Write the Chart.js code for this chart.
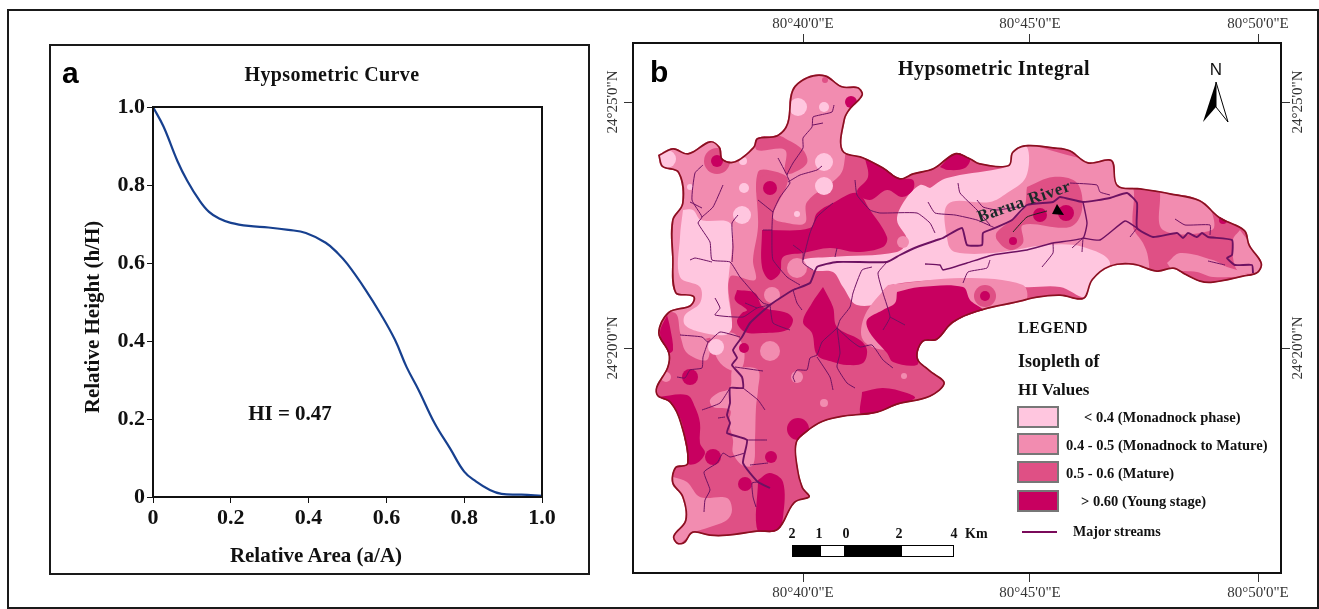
<!DOCTYPE html>
<html>
<head>
<meta charset="utf-8">
<script src="https://cdn.jsdelivr.net/npm/chart.js@4"></script>
<style>
html, body { margin: 0; padding: 0; background: #fff; }
#page { position: relative; width: 1319px; height: 609px; overflow: hidden; background: #fff; }
canvas { position: absolute; }
#mapChart { filter: blur(0.5px); }
.box { position: absolute; border: 2px solid #1a1a1a; box-sizing: border-box; }
.t { position: absolute; font-family: "Liberation Serif", serif; font-weight: bold; color: #111; white-space: nowrap; transform: translateY(-50%); line-height: 1; }
.c { transform: translate(-50%, -50%); }
.s { font-family: "Liberation Sans", sans-serif; }
.swatch { position: absolute; left: 1017px; width: 42px; height: 22px; border: 2px solid #777; box-sizing: border-box; }
.seg { position: absolute; top: 545px; height: 12px; box-sizing: border-box; border: 1px solid #000; }
</style>
</head>
<body>
<div id="page">
  <div class="box" style="left:7px;top:9px;width:1312px;height:600px"></div>
  <div class="box" style="left:49px;top:44px;width:541px;height:531px"></div>
  <canvas id="curveChart" width="538" height="528" style="left:50px;top:45px"></canvas>
  <canvas id="mapChart" width="729" height="609" style="left:590px;top:0"></canvas>

  <div class="t s" style="left:62px;top:73px;font-size:30px;color:#000">a</div>
  <div class="t c" style="left:332px;top:74px;font-size:20px;letter-spacing:.4px">Hypsometric Curve</div>
  <div class="t c" style="left:290px;top:413px;font-size:21px">HI = 0.47</div>
  <div class="t c" style="left:316px;top:555px;font-size:21px">Relative Area (a/A)</div>
  <div class="t c" style="left:92px;top:317px;font-size:21px;transform:translate(-50%,-50%) rotate(-90deg)">Relative Height (h/H)</div>

  <div class="t s" style="left:650px;top:72px;font-size:30px;color:#000">b</div>
  <div class="t c" style="left:994px;top:68px;font-size:20px;letter-spacing:.4px">Hypsometric Integral</div>
  <div class="t c s" style="left:1216px;top:69px;font-size:17px;font-weight:normal">N</div>
  <svg style="position:absolute;left:0;top:0" width="1319" height="609">
    <polygon points="1216,82 1203,122 1216,107" fill="#000"/>
    <polygon points="1216,82 1228,122 1216,107" fill="#fff" stroke="#000"/>
    <polygon points="1057,204 1064,215 1052,214" fill="#000"/>
    <line x1="1022" y1="532" x2="1057" y2="532" stroke="#7a0a5a" stroke-width="2"/>
  </svg>
  <div class="t c" style="left:1024px;top:201px;font-size:17px;letter-spacing:.7px;transform:translate(-50%,-50%) rotate(-19deg);color:#1a2a2a">Barua River</div>

  <div class="t" style="left:1018px;top:328px;font-size:16px;letter-spacing:.4px">LEGEND</div>
  <div class="t" style="left:1018px;top:361px;font-size:18px">Isopleth of</div>
  <div class="t" style="left:1018px;top:389px;font-size:17px">HI Values</div>
  <div class="swatch" style="top:406px;background:#ffc6df"></div>
  <div class="swatch" style="top:433px;background:#f28cb0"></div>
  <div class="swatch" style="top:461px;background:#df5085"></div>
  <div class="swatch" style="top:490px;background:#c80060"></div>
  <div class="t" style="left:1084px;top:417px;font-size:14.5px">&lt; 0.4 (Monadnock phase)</div>
  <div class="t" style="left:1066px;top:445px;font-size:14.5px">0.4 - 0.5 (Monadnock to Mature)</div>
  <div class="t" style="left:1066px;top:473px;font-size:14.5px">0.5 - 0.6 (Mature)</div>
  <div class="t" style="left:1081px;top:501px;font-size:14.5px">&gt; 0.60 (Young stage)</div>
  <div class="t" style="left:1073px;top:532px;font-size:14px">Major streams</div>

  <div class="seg" style="left:792px;width:28px;background:#000"></div>
  <div class="seg" style="left:820px;width:25px;background:#fff"></div>
  <div class="seg" style="left:845px;width:56px;background:#000"></div>
  <div class="seg" style="left:901px;width:53px;background:#fff"></div>
  <div class="t c" style="left:792px;top:534px;font-size:14px">2</div>
  <div class="t c" style="left:819px;top:534px;font-size:14px">1</div>
  <div class="t c" style="left:846px;top:534px;font-size:14px">0</div>
  <div class="t c" style="left:899px;top:534px;font-size:14px">2</div>
  <div class="t c" style="left:954px;top:534px;font-size:14px">4</div>
  <div class="t" style="left:965px;top:534px;font-size:14px">Km</div>
</div>

<script>
// hypsometric curve
const relArea = [0, .027, .063, .088, .119, .144, .17, .2, .246, .297, .348, .393, .444, .475, .5, .546, .586, .622, .652, .683, .724, .764, .8, .83, .866, .896, .947, 1];
const relHeight = [1, .95, .861, .811, .761, .731, .714, .703, .695, .691, .685, .677, .652, .625, .597, .532, .468, .403, .333, .274, .189, .124, .065, .04, .018, .008, .006, .003];
const curveTicks = [0, .2, .4, .6, .8, 1];

// map grid units
const lonTicks = [170, 397, 625];
const lonLabels = ['80°40\'0"E', '80°45\'0"E', '80°50\'0"E'];
const latTicks = [52, 298];
const latLabels = ['24°25\'0"N', '24°20\'0"N'];

const LIGHT = '#ffc6df', MEDIUM = '#f28cb0', MATURE = '#df5085', YOUNG = '#c80060';

const outline = [[25,105],[40,98],[55,103],[77,91],[87,97],[90,109],[102,111],[120,97],[124,88],[144,85],[154,73],[159,40],[174,27],[192,25],[209,36],[225,37],[230,45],[217,60],[212,70],[210,100],[230,107],[250,117],[267,128],[280,123],[300,118],[322,103],[337,108],[347,113],[375,115],[379,102],[392,95],[420,97],[437,100],[455,112],[479,110],[485,135],[507,138],[537,143],[567,150],[587,167],[612,180],[617,195],[629,213],[625,223],[610,227],[580,233],[567,232],[552,225],[540,219],[524,222],[500,215],[477,217],[460,230],[451,249],[427,246],[404,248],[387,252],[344,262],[320,273],[304,290],[290,292],[285,308],[297,320],[312,333],[297,347],[264,355],[244,363],[210,367],[190,372],[174,382],[164,393],[165,417],[170,437],[177,447],[162,453],[145,480],[124,482],[94,486],[77,486],[60,483],[52,493],[44,494],[40,486],[52,470],[49,447],[39,433],[42,417],[54,413],[47,373],[37,353],[24,346],[23,337],[34,317],[35,303],[25,283],[35,262],[57,255],[60,247],[42,243],[39,207],[39,170],[49,153],[45,123],[29,117]];

const mediumNorth = [[17,100],[77,83],[157,17],[237,17],[237,43],[215,67],[212,107],[207,125],[174,152],[172,173],[154,173],[140,167],[155,130],[144,122],[125,122],[125,177],[120,210],[122,230],[97,227],[97,273],[80,287],[50,287],[42,263],[10,263],[0,110]];
const mediumEast = [[392,93],[457,110],[479,108],[487,137],[500,137],[500,177],[510,193],[515,207],[514,222],[477,220],[447,197],[357,205],[314,203],[314,152],[360,150],[390,123]];
const mediumTip = [[527,143],[567,148],[579,163],[579,180],[530,180]];
const mediumCape = [[607,180],[630,213],[622,223],[604,220],[600,190]];
const mediumSouthStrip = [[534,213],[547,203],[580,210],[594,217],[604,220],[614,225],[580,227],[564,222],[540,220]];
const mediumFoot = [[40,427],[54,432],[67,447],[94,448],[99,460],[94,470],[77,477],[60,483],[40,497],[20,480],[25,430]];
const mediumSpine = [[105,317],[125,320],[125,340],[123,357],[122,390],[120,415],[109,415],[100,403],[100,390],[96,373],[97,360],[80,357],[77,350],[85,343],[97,338],[99,320]];
const mediumWest = [[47,285],[74,290],[74,310],[54,303]];
const mediumLink = [[77,287],[100,283],[111,300],[108,320],[97,320],[85,310]];
const lightWest = [[50,160],[60,160],[68,170],[97,173],[99,197],[96,223],[95,243],[99,277],[92,285],[67,282],[52,275],[52,265],[67,253],[67,237],[47,227],[47,187]];
const lightBand = [[297,138],[314,128],[365,119],[375,115],[379,102],[394,97],[393,127],[374,143],[357,152],[315,154],[315,193],[322,202],[360,203],[414,195],[450,197],[477,213],[455,247],[427,237],[390,237],[330,230],[257,235],[247,247],[264,233],[254,250],[224,255],[210,237],[200,222],[180,220],[170,210],[197,207],[264,202],[274,190],[264,170],[272,150],[287,135]];
const mediumHalo = [[255,235],[330,228],[390,235],[392,252],[344,262],[300,285],[255,300],[230,290],[232,265]];
const matureRiver = [[394,137],[420,127],[444,133],[449,160],[437,177],[390,175],[390,193],[377,200],[364,190],[364,182],[390,160]];
const matureCap = [[150,87],[170,100],[174,113],[160,123],[152,123],[152,100],[124,100],[124,88],[144,85]];
const youngNorth = [[129,180],[177,178],[184,163],[200,153],[224,143],[237,160],[254,187],[250,197],[224,202],[197,198],[170,203],[150,207],[147,223],[137,230],[129,217]];
const youngRidge = [[232,108],[254,120],[267,128],[280,130],[280,140],[269,147],[254,140],[237,150],[224,142],[235,127]];
const youngTop = [[307,117],[322,103],[337,108],[332,118],[315,120]];
const youngWest = [[25,347],[54,345],[62,357],[67,373],[67,393],[72,403],[64,413],[54,413],[49,373],[37,353]];
const youngEdge = [[34,265],[37,277],[40,300],[35,303],[27,283]];
const youngJunction = [[104,240],[122,243],[130,257],[154,263],[160,270],[154,280],[130,283],[112,282],[104,272],[109,263],[114,260],[102,250]];
const youngCentre = [[190,237],[200,257],[204,277],[227,290],[234,300],[230,313],[214,315],[200,312],[184,305],[179,283],[170,272],[179,253]];
const youngSouth = [[264,242],[287,237],[330,237],[337,250],[350,262],[304,293],[287,303],[284,315],[260,312],[254,303],[237,283],[234,270],[250,260],[262,253]];
const youngBase = [[229,342],[250,338],[274,343],[282,348],[264,355],[229,365]];
const youngFoot = [[125,430],[137,423],[150,432],[150,467],[144,482],[125,482]];

// spots: x, y, radius
const matureSpots = [[84,111,13],[192,30,3],[137,138,14],[352,246,11]];
const lightSpots = [[34,109,9],[165,57,9],[191,57,5],[191,112,9],[191,136,9],[110,111,4],[111,138,5],[57,137,3],[109,165,9],[164,164,3],[83,297,8]];
const mediumSpots = [[137,301,10],[164,327,6],[191,353,4],[271,326,3],[139,245,8],[270,192,6],[164,218,10],[33,327,5],[326,192,6]];
const youngSpots = [[84,111,6],[137,138,7],[218,52,6],[111,298,5],[57,327,8],[165,379,11],[138,407,6],[112,434,7],[80,407,8],[407,165,7],[433,163,8],[380,191,4],[352,246,5],[590,170,4]];

const mainRiver = [[620,223],[619,215],[602,215],[594,208],[599,205],[599,190],[575,187],[569,183],[564,187],[555,183],[550,188],[544,183],[520,187],[504,178],[504,153],[494,143],[477,148],[450,152],[427,147],[420,152],[394,155],[379,170],[362,178],[350,183],[349,195],[334,195],[329,178],[310,188],[304,190],[284,197],[267,205],[254,212],[204,212],[184,217],[177,233],[160,240],[137,255],[117,273],[109,287],[100,300],[104,308],[99,315],[109,327],[110,338],[97,338],[97,353],[94,365],[97,373],[94,383],[114,390],[110,413],[125,432],[137,438]];
const secondRiver = [[450,152],[454,173],[450,188],[420,193],[394,200],[360,205],[334,213],[310,220],[307,215],[292,214]];
const eastLoop = [[504,178],[492,171],[467,190],[450,188]];
const streams = [
  [[542,169],[552,175],[577,175],[577,185]], [[575,211],[592,215]], [[437,133],[464,135],[467,142],[477,145]],
  [[325,133],[327,143],[344,160],[357,175]], [[295,152],[302,163],[322,165],[344,170],[362,178]],
  [[344,150],[350,157],[364,160],[384,157]], [[330,233],[335,222],[354,218],[357,210]], [[409,217],[420,203],[420,193]],
  [[439,198],[450,188]], [[449,202],[450,188]], [[497,187],[504,178]],
  [[201,55],[199,62],[187,65],[180,67],[179,77],[170,88],[170,98],[160,113],[154,125],[157,133],[147,147],[140,162],[139,177],[139,200],[140,210],[154,227],[167,235]],
  [[190,73],[180,75]], [[189,116],[184,120],[167,125],[155,132]], [[145,108],[154,125]], [[125,150],[140,162]],
  [[70,115],[62,123],[59,150],[69,167],[65,173],[77,192],[79,210],[97,212],[107,227],[130,253],[137,255]],
  [[90,135],[80,157],[69,167]], [[57,152],[69,158]], [[57,210],[62,208],[79,212]], [[105,165],[99,173],[100,197],[99,212]],
  [[82,248],[87,258],[82,265],[110,267],[124,258],[137,255]], [[112,253],[124,258]], [[137,255],[140,273],[157,280]],
  [[160,240],[164,253],[169,260]], [[130,180],[139,180]], [[160,195],[170,203],[170,213],[180,220]], [[204,198],[202,207]],
  [[170,210],[177,183],[184,167],[200,153]], [[222,130],[224,145],[237,160],[247,163],[284,163],[297,173],[302,183]],
  [[239,217],[229,220],[220,243],[217,257],[207,270],[204,278],[189,292],[184,305],[177,308],[174,320],[164,320],[160,327],[162,332]],
  [[204,278],[207,303],[204,317],[214,333],[222,338]], [[184,307],[197,327],[200,340]],
  [[204,278],[217,290],[227,297],[239,295],[250,310],[260,318]], [[254,212],[245,223],[250,243],[257,267],[250,280]], [[257,267],[272,275]],
  [[97,338],[87,353],[69,360]], [[92,367],[85,368]], [[47,285],[69,287],[75,292],[87,282],[107,287]],
  [[75,292],[70,307],[69,318],[57,320],[52,328],[44,327]], [[102,317],[130,321]], [[110,338],[125,350],[132,360]],
  [[114,390],[134,390]], [[117,415],[135,413]], [[125,432],[119,433],[120,447],[123,457]],
  [[112,403],[97,407],[90,403],[84,413],[71,422],[77,440],[72,450],[71,462]]
];
const labelArrow = [[380,182],[394,167],[414,161]];

const STREAM = '#6d1262';

function region(points, color) {
  return { type: 'scatter', data: points.concat([points[0]]), showLine: true, fill: 'shape', backgroundColor: color,
    borderColor: 'transparent', borderWidth: 1, tension: 0.35, pointRadius: 0 };
}
function spots(points, color) {
  return { type: 'bubble', data: points, backgroundColor: color, borderWidth: 0, borderColor: 'transparent' };
}
function stream(points, width, color) {
  return { type: 'scatter', data: points, showLine: true, fill: false, borderColor: color, borderWidth: width, tension: 0.15, pointRadius: 0 };
}

// painted bottom to top
const layers = [
  region(outline, MATURE),
  region(mediumNorth, MEDIUM), region(mediumEast, MEDIUM), region(mediumTip, MEDIUM), region(mediumCape, MEDIUM),
  region(mediumSouthStrip, MEDIUM), region(mediumFoot, MEDIUM), region(mediumSpine, MEDIUM), region(mediumWest, MEDIUM), region(mediumLink, MEDIUM),
  region(lightWest, LIGHT), region(lightBand, LIGHT), region(mediumHalo, MEDIUM),
  region(matureRiver, MATURE), region(matureCap, MATURE), spots(matureSpots, MATURE),
  spots(lightSpots, LIGHT), spots(mediumSpots, MEDIUM),
  region(youngNorth, YOUNG), region(youngRidge, YOUNG), region(youngTop, YOUNG), region(youngWest, YOUNG), region(youngEdge, YOUNG),
  region(youngJunction, YOUNG), region(youngCentre, YOUNG), region(youngSouth, YOUNG), region(youngBase, YOUNG), region(youngFoot, YOUNG),
  spots(youngSpots, YOUNG)
];
streams.forEach(s => layers.push(stream(s, 1, STREAM)));
layers.push(stream(secondRiver, 1.4, STREAM), stream(eastLoop, 1.4, STREAM), stream(mainRiver, 1.9, STREAM), stream(labelArrow, 1, '#222'));
const boundary = stream(outline.concat([outline[0]]), 3.4, '#8a1020');
boundary.tension = 0.35;
layers.push(boundary);

// keeps every layer inside the basin
const basinClip = {
  id: 'basinClip',
  beforeDatasetsDraw(chart) {
    const line = chart.getDatasetMeta(0).dataset;
    line.updateControlPoints(chart.chartArea, 'x');
    const ctx = chart.ctx;
    ctx.save();
    ctx.beginPath();
    line.path(ctx);
    ctx.closePath();
    ctx.clip();
  },
  afterDatasetsDraw(chart) {
    chart.ctx.restore();
  }
};

const plotFrame = {
  id: 'plotFrame',
  afterDraw(chart) {
    const a = chart.chartArea, ctx = chart.ctx;
    ctx.save();
    ctx.strokeStyle = '#111';
    ctx.lineWidth = 2;
    ctx.strokeRect(a.left, a.top, a.right - a.left, a.bottom - a.top);
    ctx.restore();
  }
};

const serifBold = size => ({ family: '"Liberation Serif", serif', weight: 'bold', size: size });

new Chart(document.getElementById('curveChart'), {
  type: 'scatter',
  data: { datasets: [{
    data: relArea.map((a, i) => ({ x: a, y: relHeight[i] })),
    showLine: true, borderColor: '#17408f', borderWidth: 2.2, tension: 0.4, pointRadius: 0
  }] },
  plugins: [plotFrame],
  options: {
    responsive: false, animation: false, devicePixelRatio: 1,
    layout: { autoPadding: false, padding: { left: 30, right: 46, top: 62, bottom: 8 } },
    plugins: { legend: { display: false }, tooltip: { enabled: false } },
    scales: {
      x: {
        min: 0, max: 1,
        afterBuildTicks: s => { s.ticks = curveTicks.map(v => ({ value: v })); },
        afterFit: s => { s.height = 68; },
        grid: { drawOnChartArea: false, tickColor: '#111', tickLength: 6 },
        border: { color: '#111', width: 2 },
        ticks: { color: '#111', font: serifBold(22), padding: 2, maxRotation: 0,
          callback: v => v === 0 ? '0' : v.toFixed(1) }
      },
      y: {
        min: 0, max: 1,
        afterBuildTicks: s => { s.ticks = curveTicks.map(v => ({ value: v })); },
        afterFit: s => { s.width = 73; },
        grid: { drawOnChartArea: false, tickColor: '#111', tickLength: 6 },
        border: { color: '#111', width: 2 },
        ticks: { color: '#111', font: serifBold(22), padding: 2,
          callback: v => v === 0 ? '0' : v.toFixed(1) }
      }
    }
  }
});

const tickFont = { family: '"Liberation Serif", serif', size: 15 };
const mapGrid = { drawOnChartArea: false, tickColor: '#333', tickWidth: 1, tickLength: 9 };
const mapBorder = { color: '#111', width: 2 };

function lonAxis(pos) {
  return {
    type: 'linear', position: pos, min: 0, max: 648,
    afterBuildTicks: s => { s.ticks = lonTicks.map(v => ({ value: v })); },
    afterFit: s => { s.height = pos === 'top' ? 43 : 36; },
    grid: mapGrid, border: mapBorder,
    ticks: { color: '#333', font: tickFont, padding: pos === 'top' ? 1 : 2, maxRotation: 0, callback: (v, i) => lonLabels[i] }
  };
}
function latAxis(pos) {
  return {
    type: 'linear', position: pos, min: -7, max: 523, reverse: true,
    afterBuildTicks: s => { s.ticks = latTicks.map(v => ({ value: v })); },
    afterFit: s => { s.width = pos === 'left' ? 43 : 38; },
    grid: mapGrid, border: mapBorder,
    ticks: { color: '#333', font: tickFont, padding: pos === 'left' ? -21 : -24, minRotation: 90, maxRotation: 90, crossAlign: 'center', callback: (v, i) => latLabels[i] }
  };
}

new Chart(document.getElementById('mapChart'), {
  type: 'scatter',
  data: { datasets: layers.map((d, i) => Object.assign(d, { order: layers.length - i, xAxisID: 'x', yAxisID: 'y' })) },
  plugins: [basinClip, plotFrame],
  options: {
    responsive: false, animation: false, devicePixelRatio: 1,
    layout: { autoPadding: false, padding: 0 },
    plugins: { legend: { display: false }, tooltip: { enabled: false } },
    elements: { line: { capBezierPoints: false } },
    scales: { x: lonAxis('bottom'), x2: lonAxis('top'), y: latAxis('left'), y2: latAxis('right') }
  }
});
</script>
</body>
</html>
